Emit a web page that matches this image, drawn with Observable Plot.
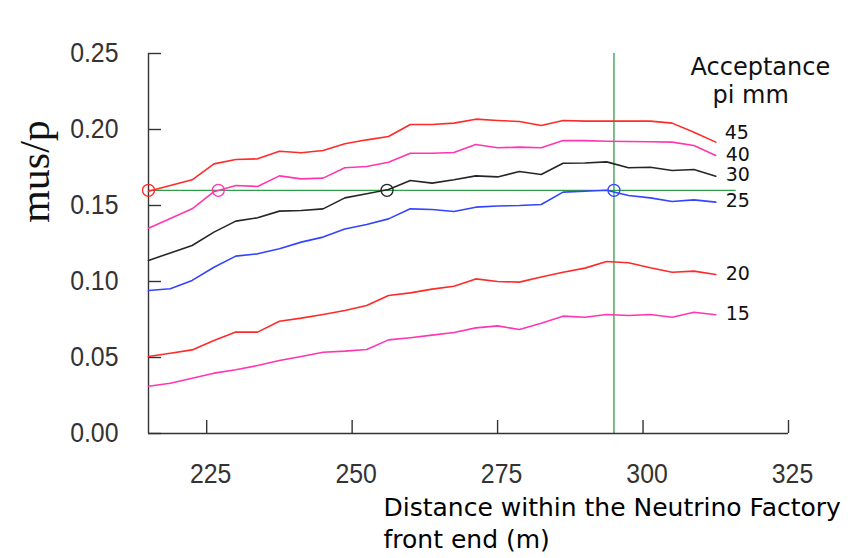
<!DOCTYPE html>
<html>
<head>
<meta charset="utf-8">
<script src="https://cdn.jsdelivr.net/npm/d3@7"></script>
<script src="https://cdn.jsdelivr.net/npm/@observablehq/plot@0.6"></script>
<style>
  html, body { margin: 0; padding: 0; background: #fff; }
  #chart svg { display: block; }
</style>
</head>
<body>
<div id="chart"></div>
<script>
// Distance along the front end (m) at which mu/p was evaluated
const distance = [215, 218.75, 222.5, 226.25, 230, 233.75, 237.5, 241.25, 245, 248.75, 252.5, 256.25,
  260, 263.75, 267.5, 271.25, 275, 278.75, 282.5, 286.25, 290, 293.75, 297.5, 301.25, 305, 308.75, 312.5];

// Acceptance cuts (pi mm) and their line colours
const acceptance = [45, 40, 30, 25, 20, 15];
const seriesColor = ["#ff2a2a", "#ff36b0", "#262626", "#3344ff", "#ff2a2a", "#ff36b0"];

// mu/p for each acceptance
const mus45 = [0.1594, 0.1632, 0.1669, 0.1774, 0.1803, 0.1807, 0.1857, 0.1847, 0.1862, 0.1906, 0.1932, 0.1954,
  0.2033, 0.2033, 0.2042, 0.2068, 0.2059, 0.2053, 0.2026, 0.2059, 0.2055, 0.2055, 0.2055, 0.2055, 0.2042, 0.1982, 0.1917];
const mus40 = [0.1351, 0.1414, 0.1478, 0.1591, 0.1632, 0.1625, 0.1695, 0.1675, 0.1680, 0.1748, 0.1757, 0.1785,
  0.1844, 0.1844, 0.1849, 0.1901, 0.1880, 0.1884, 0.1880, 0.1928, 0.1927, 0.1923, 0.1921, 0.1919, 0.1917, 0.1895, 0.1829];
const mus30 = [0.1138, 0.1188, 0.1237, 0.1325, 0.1397, 0.1419, 0.1463, 0.1467, 0.1478, 0.1550, 0.1577, 0.1605,
  0.1664, 0.1647, 0.1669, 0.1695, 0.1688, 0.1724, 0.1704, 0.1778, 0.1780, 0.1787, 0.1748, 0.1752, 0.1730, 0.1737, 0.1693];
const mus25 = [0.0941, 0.0952, 0.1007, 0.1094, 0.1167, 0.1182, 0.1215, 0.1259, 0.1292, 0.1345, 0.1375, 0.1412,
  0.1478, 0.1474, 0.1461, 0.1489, 0.1497, 0.1500, 0.1507, 0.1588, 0.1594, 0.1600, 0.1566, 0.1550, 0.1526, 0.1537, 0.1522];
const mus20 = [0.0507, 0.0528, 0.0550, 0.0612, 0.0667, 0.0667, 0.0739, 0.0759, 0.0783, 0.0809, 0.0842, 0.0908,
  0.0925, 0.0950, 0.0969, 0.1017, 0.1000, 0.0996, 0.1029, 0.1061, 0.1088, 0.1132, 0.1123, 0.1090, 0.1061, 0.1068, 0.1046];
const mus15 = [0.0311, 0.0331, 0.0364, 0.0397, 0.0419, 0.0447, 0.0480, 0.0507, 0.0535, 0.0542, 0.0553, 0.0616,
  0.0630, 0.0647, 0.0664, 0.0695, 0.0708, 0.0684, 0.0726, 0.0772, 0.0765, 0.0783, 0.0776, 0.0783, 0.0765, 0.0798, 0.0781];
const musSeries = [mus45, mus40, mus30, mus25, mus20, mus15];

// Reference yield, chosen distance and where each curve first reaches the yield
const targetYield = 0.16;
const chosenDistance = 295;
const yieldLineEnd = 316;
const crossingAcceptance = [45, 40, 30, 25];
const crossingDistance = [215, 227, 256, 295];

// Axes
const xDomain = [215, 325];
const yDomain = [0, 0.25];
const xTicks = [225, 250, 275, 300, 325];
const yTicks = [0, 0.05, 0.10, 0.15, 0.20, 0.25];

const colorOf = new Map(acceptance.map((a, i) => [a, seriesColor[i]]));

const rows = acceptance.flatMap((a, s) =>
  distance.map((d, i) => ({acceptance: a, distance: d, mus: musSeries[s][i]})));
const lastRows = acceptance.map((a, s) => ({
  acceptance: a, distance: distance[distance.length - 1], mus: musSeries[s][musSeries[s].length - 1]
}));
const crossings = crossingAcceptance.map((a, i) => ({acceptance: a, distance: crossingDistance[i], mus: targetYield}));

const axisColor = "#333";
const tickFont = "'Liberation Sans', Arimo, sans-serif";
const tickFontSize = 27;
const tickCondense = 0.92;   // narrow the tick numerals a little
const tick = 13;

const chart = Plot.plot({
  width: 848,
  height: 558,
  marginLeft: 148,
  marginRight: 60,
  marginTop: 53,
  marginBottom: 125,
  style: {fontFamily: tickFont, color: axisColor, background: "#fff"},
  x: {domain: xDomain, axis: null},
  y: {domain: yDomain, axis: null},
  marks: [
    // reference lines
    Plot.ruleY([targetYield], {x1: xDomain[0], x2: yieldLineEnd, stroke: "#2f9e48", strokeWidth: 1.3}),
    Plot.ruleX([chosenDistance], {y1: yDomain[0], y2: yDomain[1], stroke: "#2f9e48", strokeWidth: 1.3}),

    // axis lines and inward ticks
    Plot.ruleX([xDomain[0]], {y1: yDomain[0], y2: yDomain[1], stroke: axisColor, strokeWidth: 1.4}),
    Plot.ruleY([yDomain[0]], {x1: xDomain[0], x2: xDomain[1], stroke: axisColor, strokeWidth: 1.4}),
    Plot.ruleX(xTicks, {x: d => d, y1: yDomain[0], y2: yDomain[0], insetTop: -tick, stroke: axisColor, strokeWidth: 1.4}),
    Plot.ruleY(yTicks, {y: d => d, x1: xDomain[0], x2: xDomain[0], insetRight: -tick, stroke: axisColor, strokeWidth: 1.4}),

    // tick labels
    Plot.text(xTicks, {
      x: d => d, frameAnchor: "bottom", text: d => String(d), dx: 4, dy: 30, lineAnchor: "top",
      fontFamily: tickFont, fontSize: tickFontSize, fill: axisColor, ariaDescription: "tick labels"
    }),
    Plot.text(yTicks, {
      y: d => d, frameAnchor: "left", text: d => d3.format(".2f")(d), dx: -30, textAnchor: "end", lineAnchor: "middle",
      fontFamily: tickFont, fontSize: tickFontSize, fill: axisColor, ariaDescription: "tick labels"
    }),

    // curves
    ...acceptance.map(a => Plot.line(rows.filter(r => r.acceptance === a), {
      x: "distance", y: "mus", stroke: colorOf.get(a), strokeWidth: 1.6
    })),

    // crossing markers
    Plot.dot(crossings, {x: "distance", y: "mus", r: 6, fill: "none", stroke: d => colorOf.get(d.acceptance), strokeWidth: 1.3}),

    // curve labels
    Plot.text(lastRows.filter(d => d.acceptance === 45), {
      x: "distance", y: "mus", text: d => String(d.acceptance), dx: 9, dy: -9,
      textAnchor: "start", fontFamily: "'DejaVu Sans'", fontSize: 19, fill: "#111"
    }),
    Plot.text(lastRows.filter(d => d.acceptance !== 45), {
      x: "distance", y: "mus", text: d => String(d.acceptance), dx: 10, dy: -1,
      textAnchor: "start", fontFamily: "'DejaVu Sans'", fontSize: 19, fill: "#111"
    }),

    // legend heading
    Plot.text(["Acceptance"], {
      frameAnchor: "top-left", dx: 542, dy: 4, textAnchor: "start", lineAnchor: "top",
      fontFamily: "'DejaVu Sans'", fontSize: 24, fill: "#111"
    }),
    Plot.text(["pi mm"], {
      frameAnchor: "top-left", dx: 564, dy: 32, textAnchor: "start", lineAnchor: "top",
      fontFamily: "'DejaVu Sans'", fontSize: 24, fill: "#111"
    }),

    // axis titles
    Plot.text(["mus/p"], {
      frameAnchor: "top-left", dx: -113, dy: 118, rotate: -90, textAnchor: "middle", lineAnchor: "middle",
      fontFamily: "'Liberation Serif', serif", fontSize: 42, fill: "#111"
    }),
    Plot.text(["Distance within the Neutrino Factory\nfront end (m)"], {
      frameAnchor: "top-left", dx: 235, dy: 440, textAnchor: "start", lineAnchor: "top", lineHeight: 1.28,
      fontFamily: "'DejaVu Sans'", fontSize: 25, fill: "#000"
    })
  ]
});

// condense the tick numerals horizontally about their anchor points
d3.select(chart).selectAll("g[aria-description='tick labels'] text").each(function () {
  const t = this.getAttribute("transform") || "";
  this.setAttribute("transform", `${t} scale(${tickCondense},1)`);
});

document.getElementById("chart").appendChild(chart);
</script>
</body>
</html>
